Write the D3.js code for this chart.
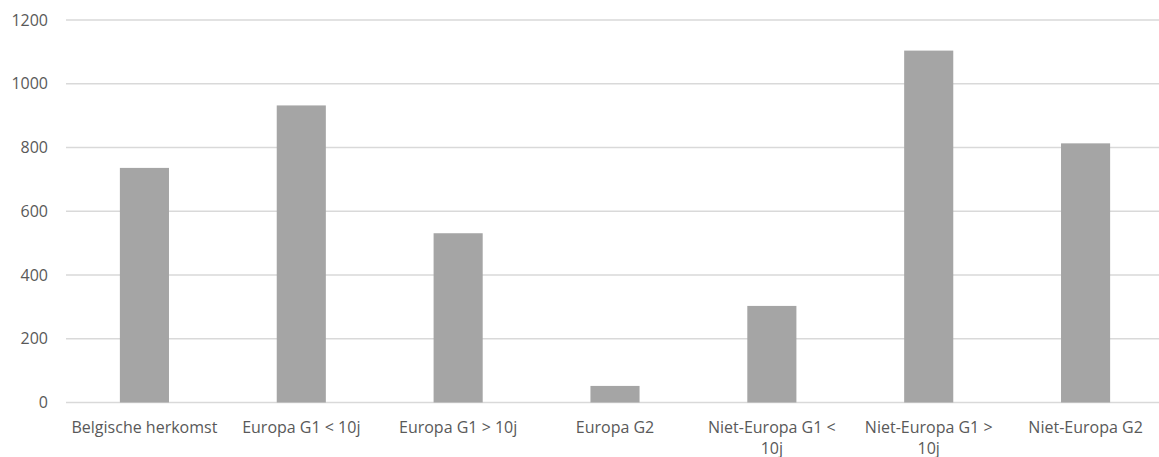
<!DOCTYPE html>
<html><head><meta charset="utf-8">
<script src="https://cdn.jsdelivr.net/npm/d3@7"></script>
<style>body{margin:0;background:#fff;}svg{display:block;}</style>
</head><body>
<svg id="c" width="1159" height="457"></svg>
<script>
const categories = ["Belgische herkomst","Europa G1 < 10j","Europa G1 > 10j","Europa G2","Niet-Europa G1 < 10j","Niet-Europa G1 > 10j","Niet-Europa G2"];
const values = [736, 932, 531, 52, 303, 1104, 813];
const yTicks = [0, 200, 400, 600, 800, 1000, 1200];

(function() {
const svg = d3.select("#c");
const mLeft = 66, mRight = 1164, mTop = 20, mBottom = 402.5;
const x = d3.scaleBand().domain(categories).range([mLeft, mRight]);
const y = d3.scaleLinear().domain([0, 1200]).range([mBottom, mTop]);
const font = "'Open Sans', sans-serif";

svg.append("g").selectAll("line").data(yTicks).join("line")
  .attr("x1", mLeft).attr("x2", mRight)
  .attr("y1", d => y(d)).attr("y2", d => y(d))
  .attr("stroke", "#d9d9d9").attr("stroke-width", 1.5);

svg.append("g").selectAll("text").data(yTicks).join("text")
  .attr("x", 48).attr("y", d => y(d)).attr("dy", "0.35em")
  .attr("text-anchor", "end").attr("fill", "#595959")
  .style("font-family", font).style("font-size", "16px")
  .text(d => d);

const bw = x.bandwidth() * 0.313;
svg.append("g").selectAll("rect").data(values).join("rect")
  .attr("x", (d, i) => x(categories[i]) + x.bandwidth() / 2 - bw / 2)
  .attr("width", bw)
  .attr("y", d => y(d))
  .attr("height", d => y(0) - y(d))
  .attr("fill", "#a5a5a5");

const lab = svg.append("g").selectAll("text").data(categories).join("text")
  .attr("text-anchor", "middle").attr("fill", "#595959")
  .style("font-family", font).style("font-size", "16px")
  .attr("transform", d => `translate(${x(d) + x.bandwidth() / 2},433)`);

lab.each(function(d) {
  const t = d3.select(this);
  const words = d.split(" ");
  let lines = [], cur = [];
  const maxW = 150;
  const probe = t.append("tspan");
  words.forEach(w => {
    const test = cur.concat([w]).join(" ");
    probe.text(test);
    if (probe.node().getComputedTextLength() > maxW && cur.length) {
      lines.push(cur.join(" ")); cur = [w];
    } else cur.push(w);
  });
  lines.push(cur.join(" "));
  probe.remove();
  lines.forEach((l, i) => t.append("tspan").attr("x", 0).attr("y", i * 21).text(l));
});
})();
</script>
</body></html>
